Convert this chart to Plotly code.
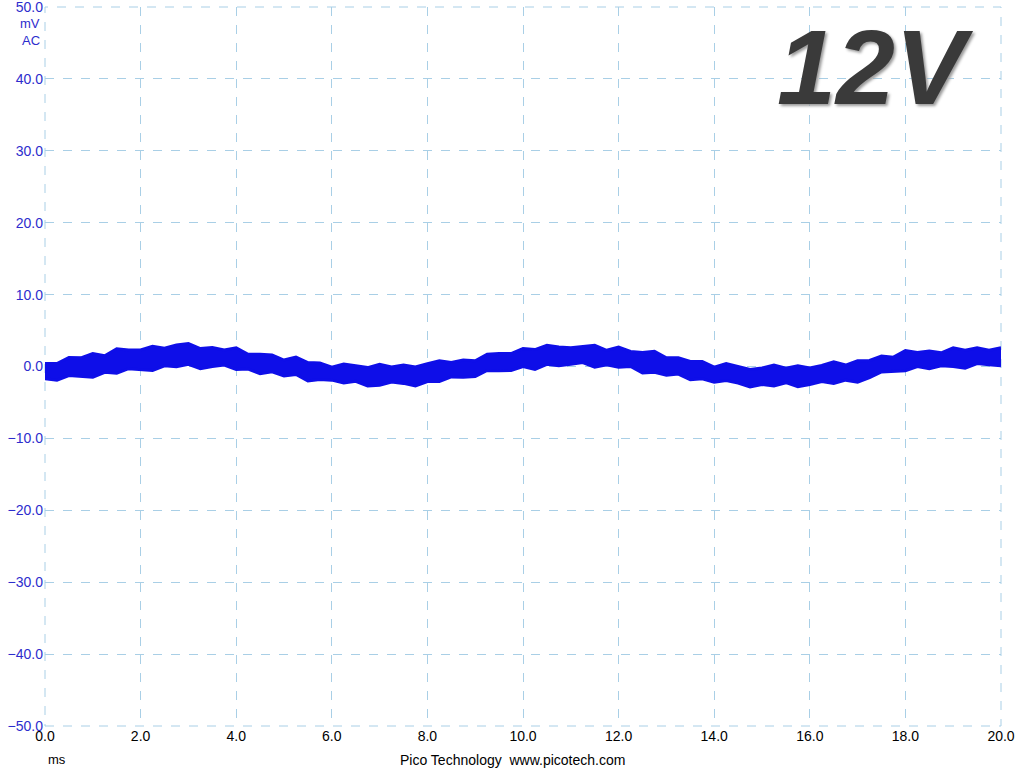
import plotly.graph_objects as go

# time axis samples (ms), read every 0.25 ms
time_ms = [i * 0.25 for i in range(81)]

# upper edge of the noisy trace (mV)
upper_mv = [0.4, 0.4, 1.25, 1.2, 1.8, 1.5, 2.45, 2.3, 2.3, 2.8, 2.55, 3.0, 3.2, 2.5, 2.65, 2.3,
            2.6, 1.7, 1.7, 1.6, 0.9, 1.3, 0.55, 0.5, -0.1, 0.35, 0.1, -0.15, 0.3, -0.05, 0.2, -0.05,
            0.4, 0.8, 0.55, 0.9, 0.8, 1.7, 1.8, 1.8, 2.5, 2.35, 2.95, 2.7, 2.6, 2.8, 2.95, 2.25,
            2.7, 2.1, 1.95, 2.1, 1.2, 1.2, 0.7, 0.7, -0.1, 0.4, -0.05, -0.4, -0.2, 0.2, -0.25, 0.1,
            -0.2, 0.15, 0.65, 0.2, 0.8, 0.85, 1.45, 1.3, 2.2, 1.95, 2.15, 1.9, 2.6, 2.25, 2.6, 2.25,
            2.6]

# lower edge of the noisy trace (mV)
lower_mv = [-1.7, -1.9, -1.25, -1.4, -1.5, -0.8, -0.95, -0.3, -0.4, -0.55, 0.1, -0.05, 0.3, -0.3, 0.0, 0.2,
            -0.4, -0.35, -1.0, -0.75, -1.3, -1.1, -2.0, -1.8, -1.9, -2.3, -2.05, -2.7, -2.6, -2.15, -2.35, -2.7,
            -2.1, -2.1, -1.45, -1.5, -1.4, -0.55, -0.6, -0.55, 0.0, -0.4, 0.3, 0.1, 0.3, 0.55, -0.1, 0.25,
            -0.1, 0.0, -0.9, -0.8, -1.2, -1.05, -1.85, -1.7, -2.2, -1.95, -2.3, -2.85, -2.5, -2.7, -2.25, -2.8,
            -2.5, -2.1, -2.35, -1.9, -2.2, -1.55, -0.75, -0.7, -0.6, 0.0, -0.3, 0.1, 0.0, -0.25, 0.4, 0.25,
            0.1]

x_ticks = [0, 2, 4, 6, 8, 10, 12, 14, 16, 18, 20]
y_ticks = [50, 40, 30, 20, 10, 0, -10, -20, -30, -40, -50]

trace_col = "rgb(14,14,232)"
grid_col = "#a9cfe6"
ylab_col = "rgb(45,45,205)"

W, H = 1024, 768
L, R, T, B = 45, 23, 7, 42
plot_w = W - L - R
plot_h = H - T - B


def px_x(px):
    return (px - L) / plot_w


def px_y(py):
    return 1 - (py - T) / plot_h


fig = go.Figure()
fig.add_trace(go.Scatter(x=time_ms, y=lower_mv, mode="lines",
                         line=dict(color=trace_col, width=3), hoverinfo="skip",
                         showlegend=False))
fig.add_trace(go.Scatter(x=time_ms, y=upper_mv, mode="lines", fill="tonexty",
                         fillcolor=trace_col,
                         line=dict(color=trace_col, width=3), hoverinfo="skip",
                         showlegend=False))

# dashed border of the graticule (edge grid lines)
fig.add_shape(type="rect", xref="paper", yref="paper", x0=0, x1=1, y0=0, y1=1,
              line=dict(color=grid_col, width=1, dash="dash"), layer="below")

fig.update_layout(
    width=W, height=H,
    margin=dict(l=L, r=R, t=T, b=B, autoexpand=False),
    paper_bgcolor="white", plot_bgcolor="white",
    font=dict(family="Liberation Sans, Arial, sans-serif", size=12, color="black"),
    xaxis=dict(range=[0, 20], tickvals=x_ticks, tickformat=".1f",
               showgrid=True, gridcolor=grid_col, griddash="dash", gridwidth=1,
               zeroline=False, showline=False, ticks="", ticklabeloverflow="allow",
               tickfont=dict(size=14, color="black"), fixedrange=True),
    yaxis=dict(range=[-50, 50], tickvals=y_ticks, tickformat=".1f",
               showgrid=True, gridcolor=grid_col, griddash="dash", gridwidth=1,
               zeroline=False, showline=False, ticks="", ticklabelstandoff=1,
               ticklabeloverflow="allow",
               tickfont=dict(size=14, color=ylab_col), fixedrange=True),
    annotations=[
        dict(text="mV", xref="paper", x=px_x(42), xanchor="right",
             yref="paper", y=px_y(24), yanchor="middle", showarrow=False,
             font=dict(size=13, color=ylab_col)),
        dict(text="AC", xref="paper", x=px_x(42), xanchor="right",
             yref="paper", y=px_y(40), yanchor="middle", showarrow=False,
             font=dict(size=13, color=ylab_col)),
        dict(text="ms", xref="paper", x=px_x(57), xanchor="center",
             yref="paper", y=px_y(760), yanchor="middle", showarrow=False,
             font=dict(size=13, color="black")),
        dict(text="Pico Technology  www.picotech.com", xref="paper", x=px_x(512),
             xanchor="center", yref="paper", y=px_y(760), yanchor="middle",
             showarrow=False, font=dict(size=14, color="black")),
        dict(text="<b><i>12V</i></b>", xref="paper", x=px_x(875), xanchor="center",
             yref="paper", y=px_y(67), yanchor="middle", showarrow=False,
             font=dict(size=106, color="#3a3a3a",
                       family="Liberation Sans, Arial, sans-serif",
                       shadow="2px 2px 3px #9a9a9a")),
    ],
)

fig.write_html("out.html", config={"displayModeBar": False},
               post_script="document.body.style.margin='0';")
